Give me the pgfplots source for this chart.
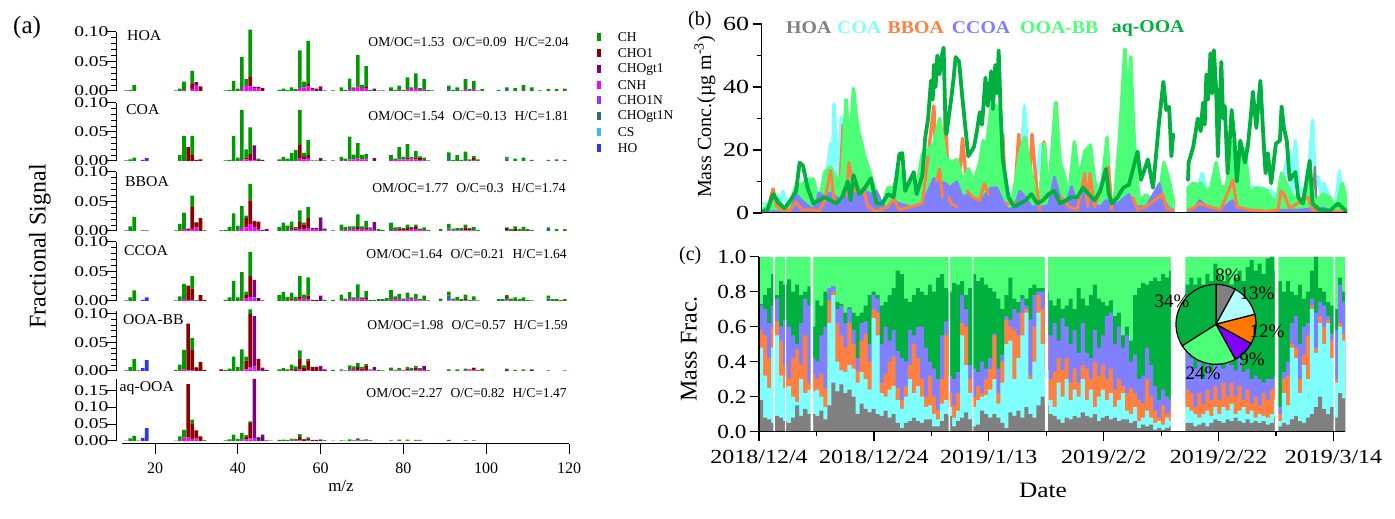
\documentclass[border=0pt]{standalone}
\usepackage{pgfplots}
\usepackage{pgfplotstable}
\usepackage{graphicx}
\usepackage{fontspec}
\setmainfont{Liberation Serif}
\pgfplotsset{compat=1.18}
\definecolor{cCH}{HTML}{009900}
\definecolor{cR}{HTML}{8B0000}
\definecolor{cU}{HTML}{800080}
\definecolor{cP}{HTML}{FF00FF}
\definecolor{cV}{HTML}{9933FF}
\definecolor{cT}{HTML}{336699}
\definecolor{cS}{HTML}{33BBFF}
\definecolor{cB}{HTML}{3333FF}
\definecolor{gHOA}{HTML}{808080}
\definecolor{gCOA}{HTML}{80FFFF}
\definecolor{gBB}{HTML}{FF8040}
\definecolor{gCC}{HTML}{8080FF}
\definecolor{gLG}{HTML}{4DFF77}
\definecolor{gDG}{HTML}{00B140}
\newcommand{\Tx}[3][1]{\scalebox{#1}[1]{\fontsize{#2}{#2}\selectfont #3}}
\newcommand{\yl}[1]{\Tx[1.3]{15}{#1}}
\newcommand{\lab}[4][west]{\node[inner sep=0pt,anchor=#1] at (#2pt,{519pt-#3pt}) {#4};}

% m  CNH CHO1N CHOgt1N CHO1 CHOgt1 CH HO  (thousandths of the signal)
\pgfplotstableread{
m P V T R U G B
13 0 0 0 0 0 1 0
14 0 0 0 0 0 2 0
15 0 0 0 0 0 10 0
25 0 0 0 0 0 1 0
26 0 0 0 0 0 4 0
27 2 0 0 0 0 14 0
29 3 0 0 10 0 21 0
30 10 0 0 5 0 0 0
31 0 0 0 8 0 0 0
37 0 0 0 0 0 1 0
38 0 0 0 0 0 2 0
39 0 0 0 0 0 17 0
40 0 0 0 0 0 4 0
41 3 0 0 0 0 55 0
42 10 0 0 0 0 10 0
43 8 0 0 16 0 80 0
44 5 0 0 2 0 0 0
45 4 0 0 3 0 0 0
46 0 0 0 5 0 0 0
50 0 0 0 0 0 2 0
51 0 0 0 0 0 4 0
52 0 0 0 0 0 2 0
53 0 0 0 0 0 6 0
54 0 0 0 0 0 3 0
55 5 0 0 0 0 64 0
56 6 0 0 0 0 10 0
57 8 0 0 4 0 73 0
58 3 0 0 2 0 0 0
59 0 0 0 4 0 0 0
60 0 0 0 0 8 0 0
61 0 0 0 0 0 1 0
63 0 0 0 0 0 1 0
65 0 0 0 0 0 6 0
66 0 0 0 0 0 2 0
67 3 0 0 0 0 18 0
68 3 0 0 0 0 3 0
69 6 0 0 2 0 53 0
70 5 0 0 0 0 5 0
71 5 0 0 2 0 35 0
72 0 0 0 0 0 2 0
73 0 0 0 0 4 0 0
74 0 0 0 0 0 1 0
75 0 0 0 0 0 1 0
77 0 0 0 0 0 6 0
78 0 0 0 0 0 2 0
79 2 0 0 0 0 7 0
80 0 0 0 0 0 2 0
81 3 0 0 0 0 20 0
82 3 0 0 0 0 3 0
83 5 0 0 0 0 25 0
84 2 0 0 0 0 3 0
85 3 0 0 0 0 17 0
86 0 0 0 0 0 2 0
87 0 0 0 0 0 1 0
91 0 0 3 0 0 6 0
92 0 0 0 0 0 2 0
93 0 0 0 0 0 6 0
94 0 0 0 0 0 1 0
95 3 0 0 0 0 17 0
96 0 0 0 0 0 3 0
97 3 0 0 0 0 14 0
98 0 0 0 0 0 1 0
99 0 0 0 0 0 3 0
103 0 0 0 0 0 2 0
105 0 0 3 0 0 3 0
107 0 0 0 0 0 5 0
109 2 0 0 0 0 8 0
111 0 0 0 0 0 6 0
113 0 0 0 0 0 1 0
115 0 0 0 0 0 3 0
117 0 0 0 0 0 3 0
119 0 0 0 0 0 4 0
}\tHOA
\pgfplotstableread{
m P V T R U G B
13 0 0 0 0 0 1 0
14 0 0 0 0 0 3 0
15 0 0 0 0 0 6 0
17 0 0 0 0 0 0 2
18 0 0 0 0 0 0 5
26 0 0 0 0 0 10 0
27 0 0 0 0 0 43 0
28 0 0 0 24 0 0 0
29 0 0 0 10 0 33 0
30 0 0 0 2 0 0 0
31 0 0 0 3 0 0 0
37 0 0 0 0 0 1 0
38 0 0 0 0 0 2 0
39 0 0 0 0 0 43 0
40 0 0 0 0 0 6 0
41 2 0 0 0 0 86 0
42 3 0 0 3 0 14 0
43 2 0 0 10 0 46 0
44 1 0 0 0 26 0 0
45 0 0 0 0 2 2 0
46 0 0 0 0 2 0 0
50 0 0 0 0 0 3 0
51 0 0 0 0 0 7 0
52 0 0 0 0 0 4 0
53 0 0 0 0 0 14 0
54 0 0 0 0 0 19 0
55 5 0 0 23 0 60 0
56 3 0 0 4 0 7 0
57 5 0 0 5 0 26 0
58 0 0 0 0 0 1 0
59 0 0 0 0 0 1 0
60 0 0 0 0 5 0 0
61 0 0 0 0 0 1 0
63 0 0 0 0 0 1 0
65 2 0 0 0 0 5 0
66 0 0 0 0 0 4 0
67 3 0 0 0 0 39 0
68 3 0 0 0 0 8 0
69 4 0 0 0 0 27 0
70 3 0 0 0 0 7 0
71 3 0 0 1 0 8 0
73 0 0 0 0 5 0 0
77 2 0 0 0 0 8 0
78 2 0 0 0 0 2 0
79 3 0 0 0 0 21 0
80 3 0 0 0 0 4 0
81 3 0 0 3 0 23 0
82 3 0 0 1 0 3 0
83 3 0 0 3 0 11 0
84 2 0 0 3 0 3 0
85 2 0 0 0 0 4 0
86 0 0 0 0 0 1 0
91 0 0 5 0 0 10 0
92 0 0 0 0 0 2 0
93 0 0 0 0 0 10 0
94 0 0 0 0 0 2 0
95 2 0 0 0 0 14 0
96 0 0 0 0 0 3 0
97 2 0 0 3 0 4 0
98 0 0 0 0 0 3 0
105 0 0 4 0 0 3 0
107 0 0 0 0 0 4 0
109 0 0 0 0 0 6 0
111 0 0 0 0 0 2 0
115 0 0 2 0 0 0 0
117 0 0 0 0 0 3 0
119 0 0 0 0 0 2 0
}\tCOA
\pgfplotstableread{
m P V T R U G B
13 0 0 0 0 0 1 0
14 0 0 0 0 0 8 0
15 0 0 0 0 0 24 0
17 0 0 0 0 0 0 1
18 0 0 0 0 0 0 1
25 0 0 0 0 0 1 0
26 0 0 0 0 0 12 0
27 3 0 0 0 0 28 0
28 2 0 0 2 0 0 0
29 3 0 0 38 0 19 0
30 6 0 0 8 0 1 0
31 0 0 0 22 0 0 0
32 0 0 0 1 0 0 0
36 0 0 0 0 1 0 0
37 0 0 0 0 0 2 0
38 0 0 0 0 0 7 0
39 0 0 0 0 0 30 0
40 2 0 0 0 0 7 0
41 5 0 0 0 0 37 0
42 6 0 0 16 0 4 0
43 12 0 0 40 0 28 0
44 5 2 0 8 2 0 0
45 3 0 0 13 0 0 0
46 0 0 0 0 2 0 0
47 0 0 0 0 3 0 0
50 0 0 0 0 0 7 0
51 0 0 0 0 0 14 0
52 0 0 0 0 0 9 0
53 3 0 0 3 0 10 0
54 1 0 0 3 0 3 0
55 3 0 0 12 0 20 0
56 3 0 0 7 0 4 0
57 5 0 0 17 0 19 0
58 3 0 0 2 0 0 0
59 3 0 0 2 0 0 0
60 0 0 0 0 22 1 0
61 1 0 0 0 3 0 0
63 0 0 0 0 0 1 0
65 1 0 0 0 0 10 0
66 2 0 0 0 0 5 0
67 3 0 0 0 0 5 0
68 3 0 0 0 0 5 0
69 3 0 0 4 0 21 0
70 3 0 0 0 0 5 0
71 3 0 0 3 0 11 0
72 3 0 0 0 0 3 0
73 2 0 0 0 13 0 0
74 0 0 0 0 0 3 0
75 0 0 0 0 0 2 0
77 2 0 0 0 0 12 0
78 2 0 0 0 0 4 0
79 2 0 0 2 0 3 0
80 2 0 0 1 0 2 0
81 2 0 0 3 0 6 0
82 3 0 0 2 0 2 0
83 3 0 0 4 0 4 0
84 2 0 0 0 0 2 0
85 2 0 0 0 0 4 0
86 0 0 0 0 0 2 0
89 0 0 0 0 0 3 0
91 1 0 3 0 0 8 0
92 1 0 0 0 0 3 0
93 1 0 0 0 0 4 0
94 1 0 0 1 0 3 0
95 1 0 0 5 0 5 0
96 1 0 0 2 0 2 0
97 1 0 0 1 0 5 0
98 0 0 0 0 0 2 0
105 0 0 2 3 0 1 0
106 0 0 0 1 0 2 0
107 0 0 0 3 0 5 0
108 0 0 0 1 0 2 0
109 0 0 0 1 0 6 0
110 0 0 0 1 0 2 0
111 0 0 0 1 0 1 0
115 0 0 3 0 0 3 0
117 0 0 0 0 0 3 0
119 0 0 0 1 0 2 0
}\tBBOA
\pgfplotstableread{
m P V T R U G B
13 0 0 0 0 0 1 0
14 0 0 0 0 0 6 0
15 0 0 0 0 0 18 0
17 0 0 0 0 0 0 2
18 0 0 0 0 0 0 6
25 0 0 0 0 0 1 0
26 0 0 0 0 0 8 0
27 3 0 0 0 0 26 0
28 2 0 0 24 0 0 0
29 1 0 0 20 0 21 0
30 0 0 0 1 0 0 0
31 0 0 0 10 0 0 0
32 0 0 0 2 0 0 0
37 0 0 0 0 0 2 0
38 0 0 0 0 0 6 0
39 0 0 0 0 0 34 0
40 0 0 0 0 0 6 0
41 2 0 0 0 0 47 0
42 4 0 0 6 0 6 0
43 5 2 0 35 0 41 0
44 2 4 0 0 30 0 0
45 0 0 0 5 0 0 0
46 0 0 0 0 1 0 0
50 0 0 0 0 0 10 0
51 0 0 0 0 0 15 0
52 0 0 0 0 0 7 0
53 1 0 0 3 0 10 0
54 0 0 0 0 0 7 0
55 3 0 0 5 0 34 0
56 3 0 0 1 0 7 0
57 3 0 0 6 0 31 0
58 0 0 0 2 0 0 0
59 0 0 0 2 0 0 0
60 0 0 0 0 9 0 0
61 0 0 0 0 0 2 0
63 0 0 0 0 0 2 0
65 1 0 0 0 0 10 0
66 2 0 0 0 0 2 0
67 3 0 0 0 0 12 0
68 3 0 0 0 0 3 0
69 3 0 0 1 0 24 0
70 3 0 0 0 0 3 0
71 3 0 0 2 0 12 0
72 0 0 0 0 0 2 0
73 0 0 0 0 0 2 0
74 0 0 0 0 0 3 0
75 0 0 0 0 0 3 0
76 0 0 0 0 0 5 0
77 3 0 0 0 0 16 0
78 3 0 0 0 0 5 0
79 3 0 0 0 0 9 0
80 2 0 0 0 0 2 0
81 3 0 0 1 0 10 0
82 3 0 0 0 0 3 0
83 3 0 0 1 0 8 0
84 1 0 0 0 0 2 0
85 1 0 0 0 0 8 0
86 0 0 0 0 0 1 0
89 0 0 0 0 0 4 0
91 1 0 8 0 0 7 0
92 1 0 0 0 0 3 0
93 1 0 0 0 0 6 0
94 0 0 0 0 0 3 0
95 1 0 0 2 0 8 0
96 0 0 0 0 0 2 0
97 1 0 0 0 0 7 0
98 0 0 0 0 0 1 0
103 0 0 0 0 0 3 0
104 0 0 0 0 0 3 0
105 1 0 3 3 0 3 0
106 0 0 0 1 0 3 0
107 0 0 0 0 0 6 0
108 0 0 0 0 0 3 0
109 0 0 0 0 0 6 0
110 0 0 0 0 0 2 0
111 0 0 0 0 0 1 0
115 0 0 4 0 0 5 0
116 0 0 0 0 0 3 0
117 0 0 0 0 0 3 0
118 0 0 0 0 0 2 0
119 0 0 0 1 0 2 0
}\tCCOA
\pgfplotstableread{
m P V T R U G B
13 0 0 0 0 0 1 0
14 0 0 0 0 0 7 0
15 0 0 0 0 0 21 0
16 0 0 0 1 0 0 0
17 0 0 0 0 0 0 5
18 0 0 0 0 0 0 19
25 0 0 0 0 0 2 0
26 0 0 0 1 0 10 0
27 3 0 0 0 0 34 0
28 1 0 0 82 0 0 0
29 2 0 0 35 0 21 0
30 0 0 0 5 0 2 0
31 0 0 0 16 0 0 0
32 0 0 0 2 0 0 0
36 0 0 0 3 0 0 0
37 0 0 0 0 0 2 0
38 0 0 0 0 0 4 0
39 0 0 0 0 0 25 0
40 0 0 0 0 0 7 0
41 2 0 0 0 0 36 0
42 3 0 0 15 0 7 0
43 4 3 0 93 0 8 0
44 3 5 0 0 88 0 0
45 2 0 0 19 0 0 0
46 0 0 0 0 6 0 0
47 0 0 0 0 2 0 0
50 0 0 0 0 0 3 0
51 0 0 0 0 0 5 0
52 0 0 0 0 0 3 0
53 1 0 0 3 0 7 0
54 0 0 0 2 0 6 0
55 3 0 0 19 0 14 0
56 0 0 0 5 0 5 0
57 1 0 0 17 0 3 0
58 0 0 0 7 0 0 0
59 0 0 0 7 0 0 0
60 0 0 0 0 9 0 0
61 0 0 0 0 3 0 0
63 0 0 0 0 0 2 0
65 1 0 0 0 0 2 0
66 0 0 0 0 0 1 0
67 2 0 0 1 0 7 0
68 2 0 0 1 0 5 0
69 2 0 0 5 0 7 0
70 2 0 0 2 0 3 0
71 2 0 0 7 0 3 0
72 1 0 0 0 0 2 0
73 1 0 0 0 6 0 0
74 0 0 0 0 0 2 0
75 0 0 0 0 0 1 0
77 1 0 0 0 0 5 0
78 1 0 0 0 0 1 0
79 1 0 0 0 0 4 0
80 1 0 0 0 0 1 0
81 1 0 0 3 0 3 0
82 1 0 0 1 0 3 0
83 1 0 0 5 0 3 0
84 2 0 0 1 0 2 0
85 2 0 0 0 7 0 0
86 0 0 0 0 1 0 0
91 0 0 0 0 0 3 0
93 0 0 0 0 0 3 0
95 1 0 0 1 0 2 0
96 1 0 0 1 0 1 0
97 1 0 0 4 0 1 0
98 0 0 0 1 0 1 0
99 0 0 0 1 0 3 0
105 0 0 0 3 0 1 0
107 0 0 0 0 0 2 0
109 0 0 0 1 0 2 0
111 0 0 0 2 0 1 0
115 0 0 0 0 0 1 0
119 0 0 0 0 0 1 0
}\tOOBB
\pgfplotstableread{
m P V T R U G B
13 0 0 0 0 0 1 0
14 0 0 0 0 0 8 0
15 0 0 0 0 0 15 0
16 0 0 0 1 0 0 0
17 0 0 0 0 0 0 9
18 0 0 0 0 0 0 38
25 0 0 0 0 0 1 0
26 0 0 0 0 0 14 0
27 10 0 0 0 0 23 0
28 10 0 0 158 0 0 0
29 4 0 0 48 0 11 0
30 8 0 0 23 0 0 0
31 0 0 0 14 0 0 0
32 0 0 0 2 0 0 0
37 0 0 0 0 0 2 0
38 0 0 0 0 0 5 0
39 0 0 0 0 0 19 0
40 0 0 0 0 0 6 0
41 1 0 0 3 0 20 0
42 4 0 0 10 0 3 0
43 5 2 0 46 0 5 0
44 3 4 0 0 176 0 0
45 0 0 0 0 9 3 0
46 0 0 0 0 18 1 0
47 0 0 0 0 2 0 0
48 0 0 0 1 0 0 0
50 0 0 0 0 0 3 0
51 0 0 0 0 0 4 0
52 0 0 0 0 0 3 0
53 1 0 0 3 0 3 0
54 0 0 0 2 0 4 0
55 2 0 0 10 0 8 0
56 0 0 0 3 0 3 0
57 1 0 0 7 0 3 0
58 0 0 0 3 0 0 0
59 0 0 0 3 0 0 0
60 0 0 0 0 4 1 0
61 0 0 0 0 2 0 0
63 0 0 0 0 0 1 0
65 0 0 0 0 0 2 0
66 0 0 0 0 0 1 0
67 0 0 0 0 0 5 0
68 1 0 0 0 0 2 0
69 2 0 0 1 0 5 0
70 1 0 0 1 0 1 0
71 1 0 0 1 0 3 0
72 0 0 0 0 2 0 0
77 0 0 0 0 0 2 0
79 0 0 0 1 0 3 0
81 0 0 0 1 0 3 0
83 0 0 0 1 0 2 0
84 1 0 0 1 0 1 0
91 0 0 0 0 0 3 0
95 0 0 0 1 0 1 0
97 0 0 0 1 0 1 0
}\tAQ

% panel (c): step index (0.7 d), then the top of each stacked layer
\pgfplotstableread{
i g c o p d
0 .18 .48 .58 .72 .73
1 .08 .32 .55 .70 .78
2 .07 .25 .42 .62 .82
3 .05 .48 .60 .72 .90
4 .09 .55 .63 .76 .78
5 .08 .32 .52 .60 .86
6 .06 .25 .38 .64 .84
7 .05 .26 .30 .60 .87
8 .08 .20 .42 .55 .80
9 .15 .17 .47 .50 .84
10 .09 .30 .38 .62 .78
11 .13 .22 .55 .76 .80
12 .10 .24 .28 .72 .83
13 .10 .23 .33 .42 .60
14 .09 .24 .30 .40 .75
15 .12 .20 .33 .55 .72
16 .07 .14 .25 .60 .80
17 .15 .62 .75 .82 .78
18 .28 .78 .80 .83 .83
19 .23 .40 .62 .70 .74
20 .27 .35 .55 .72 .73
21 .22 .34 .48 .62 .68
22 .24 .38 .62 .70 .71
23 .20 .36 .50 .58 .68
24 .10 .28 .35 .42 .66
25 .16 .34 .52 .62 .68
26 .13 .30 .56 .63 .72
27 .11 .24 .40 .50 .78
28 .13 .65 .70 .78 .80
29 .10 .55 .68 .76 .78
30 .09 .22 .28 .50 .72
31 .12 .20 .33 .60 .74
32 .08 .24 .40 .52 .78
33 .10 .26 .43 .58 .82
34 .05 .18 .25 .46 .92
35 .02 .13 .18 .42 .90
36 .05 .20 .26 .40 .76
37 .06 .30 .38 .58 .74
38 .08 .22 .50 .55 .78
39 .06 .26 .42 .60 .82
40 .05 .20 .30 .60 .80
41 .07 .14 .20 .48 .78
42 .07 .15 .32 .40 .84
43 .03 .10 .20 .36 .80
44 .03 .07 .12 .30 .88
45 .06 .16 .30 .55 .90
46 .10 .18 .55 .63 .82
47 .09 .14 .22 .32 .80
48 .03 .08 .15 .30 .85
49 .06 .12 .22 .34 .84
50 .08 .55 .62 .78 .86
51 .11 .38 .60 .70 .78
52 .07 .22 .30 .38 .82
53 .03 .14 .20 .36 .90
54 .04 .18 .26 .34 .86
55 .12 .20 .22 .40 .88
56 .10 .21 .30 .36 .84
57 .08 .24 .36 .42 .82
58 .10 .30 .55 .56 .80
59 .08 .16 .22 .36 .76
60 .05 .28 .40 .44 .70
61 .02 .50 .64 .66 .78
62 .11 .52 .60 .64 .88
63 .09 .30 .58 .70 .76
64 .12 .42 .55 .68 .74
65 .08 .55 .68 .76 .78
66 .14 .68 .70 .72 .76
67 .10 .30 .32 .64 .82
68 .08 .40 .60 .78 .84
69 .15 .68 .78 .80 .82
70 .20 .50 .70 .80 .82
71 .15 .35 .55 .75 .80
72 .10 .18 .30 .55 .75
73 .09 .14 .34 .62 .72
74 .07 .28 .42 .52 .76
75 .05 .20 .35 .65 .70
76 .08 .30 .42 .60 .72
77 .07 .18 .28 .50 .76
78 .09 .24 .36 .58 .70
79 .08 .20 .28 .45 .82
80 .11 .30 .38 .62 .76
81 .09 .18 .36 .45 .72
82 .08 .24 .30 .42 .78
83 .10 .14 .40 .58 .84
84 .06 .20 .32 .48 .76
85 .08 .24 .38 .55 .74
86 .09 .18 .30 .66 .72
87 .07 .22 .36 .68 .75
88 .08 .14 .24 .50 .66
89 .06 .18 .30 .60 .68
90 .07 .22 .26 .48 .55
91 .07 .12 .22 .55 .60
92 .05 .10 .25 .40 .52
93 .06 .14 .22 .44 .78
94 .02 .06 .18 .30 .82
95 .04 .08 .16 .32 .85
96 .03 .12 .30 .48 .84
97 .04 .08 .20 .38 .86
98 .01 .05 .12 .26 .88
99 .02 .06 .08 .18 .86
100 .01 .04 .15 .24 .90
101 .02 .08 .10 .20 .88
102 .03 .06 .12 .18 .92
103 .03 .06 .12 .18 .90
104 .03 .06 .12 .20 .88
105 .04 .10 .18 .30 .86
106 .05 .14 .24 .48 .84
107 .05 .12 .22 .42 .88
108 .03 .10 .14 .36 .84
109 .04 .08 .22 .40 .88
110 .05 .10 .16 .30 .84
111 .03 .12 .24 .40 .90
112 .05 .09 .18 .34 .86
113 .07 .14 .26 .38 .96
114 .06 .10 .18 .45 .90
115 .05 .14 .28 .36 .86
116 .07 .12 .20 .42 .90
117 .06 .16 .28 .38 .84
118 .08 .10 .20 .35 .88
119 .06 .12 .26 .42 .92
120 .05 .14 .18 .34 .86
121 .07 .10 .24 .36 .94
122 .05 .12 .16 .30 .98
123 .06 .08 .20 .32 .92
124 .05 .10 .15 .30 .96
125 .06 .09 .22 .28 .90
126 .04 .08 .18 .30 .99
127 .05 .10 .24 .30 1.0
128 .08 .18 .28 .32 .92
129 .03 .06 .10 .14 .86
130 .05 .22 .30 .34 .80
131 .04 .15 .32 .40 .86
132 .07 .48 .50 .62 .80
133 .09 .42 .48 .66 .78
134 .06 .22 .30 .50 .84
135 .05 .38 .44 .60 .76
136 .08 .30 .55 .62 .80
137 .10 .70 .72 .76 .92
138 .14 .45 .48 .68 1.0
139 .20 .62 .66 .74 .82
140 .13 .50 .60 .72 .80
141 .10 .62 .64 .66 .74
142 .14 .42 .52 .56 .72
143 .08 .28 .30 .58 .70
144 .22 .60 .62 .84 .88
145 .19 .52 .56 .74 .80
146 .12 .52 .54 .58 .60
}\tFrac

\newcommand{\stackbars}[1]{%
 \addplot[fill=cP,draw=none] table[x=m,y expr=\thisrow{P}/1000]{#1};
 \addplot[fill=cV,draw=none] table[x=m,y expr=\thisrow{V}/1000]{#1};
 \addplot[fill=cT,draw=none] table[x=m,y expr=\thisrow{T}/1000]{#1};
 \addplot[fill=cR,draw=none] table[x=m,y expr=\thisrow{R}/1000]{#1};
 \addplot[fill=cU,draw=none] table[x=m,y expr=\thisrow{U}/1000]{#1};
 \addplot[fill=cCH,draw=none] table[x=m,y expr=\thisrow{G}/1000]{#1};
 \addplot[fill=cB,draw=none] table[x=m,y expr=\thisrow{B}/1000]{#1};
}
\newcommand{\orangedata}{(0,.3)(1,1)(2,7.6)(2.6,2)(4,.5)(5,1)(6,3.5)(7,1)(9,1)(10,.5)(11,4)(12,13.4)(12.7,3)(13.5,4)(14.2,28)(14.8,6)(15.2,16)(16,8)(17,6)(17.7,8)(18.5,2)(20,.5)(22,2)(23,4.5)(24,1)(26,2)(28,3)(29,18)(30,34)(30.5,10)(31,14)(31.5,5)(32,32)(32.6,5)(33,3)(34,2)(35,23.7)(35.8,7)(36.8,5)(38,4)(38.8,9.4)(39.5,6)(40.3,30)(41,10)(42,25)(42.6,3)(44,3)(44.8,25)(45.4,5)(46,23.7)(46.5,5)(47.1,25)(47.9,8)(48.5,1)(49.2,22.6)(49.8,2)(51.3,35)(52.2,5)(53.5,2)(55,1)(56.3,12.6)(56.8,2)(57.2,12.6)(58,2)(60.4,14.7)(61,1)(63.3,20)(63.8,5)(64.3,22.6)(64.7,5)(65.5,1)(67,2)(69.9,6)(70.5,1.5)(71.7,1)(71.8,nan)(74.3,1)(75.2,1.5)(76.3,3)(78,2)(80,1)(82.1,10.5)(82.8,2)(85,1)(88,.5)(90,1)(90.5,7)(91,6)(92,1.5)(95.2,5)(96,1)(100,.5)(102,.3)}
\pgfplotsset{
 panA/.style={scale only axis,width=454pt,xmin=10.58,xmax=120.24,ymin=0,
  axis y line*=left,axis x line=none,clip=false,ybar stacked,bar width=3.6pt,
  axis line style={line width=1pt,-},tick style={line width=1pt,black},
  tick align=outside,major tick length=10pt,minor tick length=5pt,
  xtick=\empty,scaled y ticks=false,
  yticklabel style={xshift=6pt},
  ytick={0,0.05,0.1},yticklabels={\yl{0.00},\yl{0.05},\yl{0.10}},minor y tick num=4},
 ser/.style={line width=3.6pt,line join=round,line cap=round,no marks,forget plot}
}
\begin{document}
\begin{tikzpicture}
\useasboundingbox (0pt,0pt) rectangle (1395pt,519pt);
% ---------- panel (a)
\begin{axis}[panA,at={(116pt,428pt)},anchor=south west,height=59pt,ymax=0.1]\stackbars{\tHOA}\end{axis}
\begin{axis}[panA,at={(116pt,358pt)},anchor=south west,height=58pt,ymax=0.1]\stackbars{\tCOA}\end{axis}
\begin{axis}[panA,at={(116pt,288pt)},anchor=south west,height=59pt,ymax=0.1]\stackbars{\tBBOA}\end{axis}
\begin{axis}[panA,at={(116pt,218pt)},anchor=south west,height=59pt,ymax=0.1]\stackbars{\tCCOA}\end{axis}
\begin{axis}[panA,at={(116pt,148pt)},anchor=south west,height=60pt,ymax=0.105]\stackbars{\tOOBB}\end{axis}
\begin{axis}[panA,at={(116pt,78pt)},anchor=south west,height=62pt,ymax=0.183,
  ytick={0,0.05,0.1,0.15},yticklabels={\yl{0.00},\yl{0.05},\yl{0.10},\yl{0.15}},minor y tick num=0]\stackbars{\tAQ}\end{axis}
\begin{axis}[scale only axis,width=447pt,height=1pt,at={(122pt,75pt)},anchor=south west,
  xmin=12,xmax=120,ymin=0,ymax=1,axis x line=bottom,axis y line=none,
  axis line style={line width=1pt,-},tick style={line width=1pt,black},tick align=outside,
  major tick length=10pt,xtick={20,40,...,120},
  xticklabel style={font=\fontsize{16}{16}\selectfont,yshift=-5pt},
  /pgf/number format/assume math mode=true]
\end{axis}
% ---------- panel (b)
\begin{axis}[scale only axis,width=585.3pt,height=189pt,at={(761.7pt,306pt)},anchor=south west,
  xmin=0,xmax=102,ymin=0,ymax=60,axis y line*=left,axis x line=none,axis on top,
  axis line style={line width=1.2pt,-},tick style={line width=1.2pt,black},tick align=outside,
  major tick length=9pt,minor tick length=5pt,xtick=\empty,
  ytick={0,20,40,60},yticklabels={\Tx[1.3]{20}{0},\Tx[1.3]{20}{20},\Tx[1.3]{20}{40},\Tx[1.3]{20}{60}},
  minor y tick num=1,unbounded coords=jump]
\addplot[ser,color=gCOA] coordinates {(0,3)(1,3)(2,4)(2.8,5.8)(3.2,2)(3.7,6.8)(4.4,3)(5,3)(6,3)(7,4)(7.7,11)(8,6)(8.4,10.8)(9,3)(10,5)(11,7)(12,22)(12.3,10)(12.6,34.6)(13.2,12)(13.9,30.4)(14.5,14)(16,10)(18,5)(19,4)(19.7,8)(20.5,3)(22,3)(24,4)(26,2)(28,5)(30,4)(32,5)(33,8)(34,6)(36,4)(38,3)(40,4)(41,5)(42,3)(42.6,8)(43.2,4)(45,12)(45.8,34)(46.5,14)(47.5,6)(48.7,22)(49.5,5)(51,8)(52.8,12)(53.5,4)(55,6)(57,5)(59,9.4)(60,4)(62,5)(64,3)(66,2)(68,3)(70,4)(71.7,3)(71.8,nan)(74.3,4)(76,8)(76.8,12.6)(77.6,6)(79.8,9.4)(80.5,5)(81.3,9)(83,6)(85.6,8.4)(86.2,5)(87,8)(88.8,7)(90,5)(92,20)(92.5,6)(93,23)(93.6,8)(95,5)(96,29.5)(96.5,8)(97,11.5)(97.6,5)(98,9.4)(99,4)(100,2)(100.7,13.3)(101.2,4)(101.6,7)(102,2)};
\addplot[ser,color=gHOA,line width=2pt] coordinates {(96,3)(96.4,14.7)(96.7,3)};
% BBOA: tips stand out above OOA-BB
\addplot[ser,color=gBB,line width=3.4pt] coordinates {\orangedata};
% OOA-BB: the line, with the mass under it filled
\addplot[ser,color=gLG,fill=gLG] coordinates {(0,1)(1,2)(2,5)(3,4)(4,1)(5,3)(6,8.7)(7,9)(8,10.5)(9,10.8)(10,3)(11,13)(12,14.5)(13,11)(14,11.5)(14.7,36)(15.3,20)(16,39.5)(16.5,30)(17,25)(18,17.5)(19,12)(20,5)(21,2)(22,8)(23,8)(24,14)(25,8)(26,11)(27,8)(28,18.7)(29,20)(30,22)(31,30)(32,18)(33,16)(34,17)(35,10)(36,14)(37,10)(38,16)(38.6,23)(39,18)(40,34)(41,34)(42,16)(43,3)(43.8,5)(45,19)(45.8,24)(46.7,15)(47.9,5)(48.4,4)(49.3,22)(50,4)(51.2,35)(52,16)(52.8,11.5)(53.4,3)(54.5,22.6)(55.3,10.5)(56.3,19.5)(57.3,21.6)(58,10.5)(59,4)(59.5,12.6)(60.2,24)(60.7,5)(61.5,4)(62.3,22)(63.3,52)(63.7,30)(64.3,49.6)(64.8,27)(65.3,12.6)(65.8,4)(67,5.7)(68.2,4)(69.3,6)(70.1,16)(71,10.5)(71.7,4)} \closedcycle;
\addplot[ser,color=gLG,fill=gLG] coordinates {(74.3,8)(75.2,9.4)(76,9)(76.6,9.4)(77.4,7)(78.3,8)(79.2,16)(79.9,8.4)(81,8.4)(82.1,22.6)(83,17)(84.2,20.5)(85,6)(86.2,8)(88,7)(89.7,3)(90.6,12.6)(91.4,9.4)(92.6,5)(93.5,5)(94.6,4)(95.5,12.6)(96.4,3)(97.8,6)(99,5)(100.1,1)(101.2,9.4)(102,2)} \closedcycle;
% CCOA
\addplot[ser,color=gCC,fill=gCC,line width=2.4pt] coordinates {(0,.2)(2,.5)(4,.3)(5,1)(6,6)(7,4)(9,1)(10,6.5)(11,5)(12,6.5)(13,5)(14,4)(15,7)(16,6)(17,7)(18,7)(19,6)(20,7)(21,3)(22,1)(23,4)(24,3)(26,2)(28,3)(29,7)(30,11)(31,10)(32,9.4)(33,8)(33.3,9)(34,10)(35,5)(36,6)(37,4)(38,3)(39,6)(40,8)(41,8)(42,4)(43,1)(44,2)(45,7)(46,5)(47,2)(49,2)(50,2.5)(51,11.5)(52,5)(53,3)(54,8.4)(55,3)(56.5,9.4)(57.5,3)(59,2)(60,4)(62,3)(64,6)(65,2)(67,2)(69.3,9.4)(70,4)(71,1.5)(71.7,1)} \closedcycle;
\addplot[ser,color=gCC,fill=gCC,line width=2.4pt] coordinates {(74.3,1)(75.5,1.5)(76.3,4)(78,1.5)(80,1)(82,4)(83,1.5)(84,1)(88,.5)(92,1)(94,1)(96,1.5)(98,1.5)(100,.3)(102,.3)} \closedcycle;
% BBOA again: its lower stretches lie over the other layers
\addplot[ser,color=gBB,line width=3pt,restrict y to domain=0:19] coordinates {\orangedata};
% aq-OOA
\addplot[ser,color=gDG,line width=3.8pt] coordinates {(0,.5)(1,1)(2,6)(3,3)(4,1.5)(5,4)(6,7)(6.6,16)(7.2,15)(8,8)(9,3)(10,4)(11,5)(12,4)(13,3)(14,5)(15,10)(15.5,4)(16,12)(17,6)(18,8)(19,11)(20,3)(21,3)(22,6)(23,5)(24,18.7)(24.5,19)(25,7)(26,11)(26.5,13)(27,6)(28,12)(28.5,24)(29,30)(29.5,42)(29.8,36)(30,47)(30.3,40)(30.6,50)(31,44)(31.4,50)(31.7,52.5)(32,30)(32.2,25)(33,36)(33.4,42)(33.8,49.5)(34.4,48)(35,36)(36,18)(37,21)(37.5,26)(38,32)(38.4,28)(39,43)(39.4,34)(40,45)(40.3,33)(40.7,47)(41,38)(41.3,51.6)(41.6,34)(42,17)(43,5)(44,2)(45,3)(46,4)(47,6)(48,3)(49,4)(50,6)(51,7)(52,3)(53,4)(54,5)(55,5)(56,8)(57,6)(58,4)(59,7)(60,14)(60.5,6)(61,3)(62,5)(63,8)(64,9)(65.5,19.5)(66.1,10.5)(67.3,17)(68.2,8)(69.2,28)(70,41.7)(70.5,32.7)(71,33.7)(71.4,18)(71.7,25)(71.8,nan)(74.3,10.5)(74.4,16)(75.2,21)(76,30)(76.5,26)(76.9,35)(77.2,28)(77.5,44)(77.8,36)(78.2,50.7)(78.5,38)(78.8,51.7)(79.2,39)(79.5,18)(80.1,48)(80.4,30)(80.7,34)(81.2,12.6)(81.9,32.7)(82.4,23)(82.8,10)(83.4,23)(84.2,16)(84.7,21)(85.2,30)(85.6,38.5)(86.2,27)(86.9,42)(87.4,25)(87.8,12.6)(88.2,19)(88.8,9.4)(89.6,22)(90.3,23)(90.6,33.8)(91,27)(91.5,23)(92,10.5)(93,13)(93.5,5)(94.3,3)(95.5,16.6)(96,3)(97.2,1)(99,.7)(100.4,3)(101.3,1.5)(102,.4)};
\draw[line width=1.5pt] (axis cs:-1.5,0) -- (axis cs:102,0);
\end{axis}
% ---------- panel (c)
\begin{axis}[scale only axis,width=586pt,height=175pt,at={(759pt,87.3pt)},anchor=south west,
  xmin=0,xmax=102,ymin=0,ymax=1,axis y line*=left,axis x line*=bottom,axis on top,
  axis line style={line width=1.2pt,-},tick style={line width=1.2pt,black},tick align=outside,
  major tick length=9pt,minor tick length=4pt,
  xtick={0,20,40,60,80,100},minor xtick={10,30,50,70,90},
  xticklabel style={yshift=-6pt},
  xticklabels={\Tx[1.2]{20}{2018/12/4},\Tx[1.2]{20}{2018/12/24},\Tx[1.2]{20}{2019/1/13},\Tx[1.2]{20}{2019/2/2},\Tx[1.2]{20}{2019/2/22},\Tx[1.2]{20}{2019/3/14}},
  ytick={0,0.2,0.4,0.6,0.8,1},
  yticklabels={\Tx[1.16]{20}{0.0},\Tx[1.16]{20}{0.2},\Tx[1.16]{20}{0.4},\Tx[1.16]{20}{0.6},\Tx[1.16]{20}{0.8},\Tx[1.16]{20}{1.0}}]
\addplot[fill=gLG,draw=none] coordinates {(0,1)(102.2,1)} \closedcycle;
\addplot[const plot,fill=gDG,draw=none] table[x expr=\thisrow{i}*0.7,y=d]{\tFrac} \closedcycle;
\addplot[const plot,fill=gCC,draw=none] table[x expr=\thisrow{i}*0.7,y=p]{\tFrac} \closedcycle;
\addplot[const plot,fill=gBB,draw=none] table[x expr=\thisrow{i}*0.7,y=o]{\tFrac} \closedcycle;
\addplot[const plot,fill=gCOA,draw=none] table[x expr=\thisrow{i}*0.7,y=c]{\tFrac} \closedcycle;
\addplot[const plot,fill=gHOA,draw=none] table[x expr=\thisrow{i}*0.7,y=g]{\tFrac} \closedcycle;
% data gaps
\addplot[fill=white,draw=none] coordinates {(2.5,0)(2.5,1)(2.75,1)(2.75,0)} \closedcycle;
\addplot[fill=white,draw=none] coordinates {(4.55,0)(4.55,1)(4.7,1)(4.7,0)} \closedcycle;
\addplot[fill=white,draw=none] coordinates {(9,0)(9,1)(9.4,1)(9.4,0)} \closedcycle;
\addplot[fill=white,draw=none] coordinates {(33,0)(33,1)(33.25,1)(33.25,0)} \closedcycle;
\addplot[fill=white,draw=none] coordinates {(37.15,0)(37.15,1)(37.3,1)(37.3,0)} \closedcycle;
\addplot[fill=white,draw=none] coordinates {(49.8,0)(49.8,1)(50.3,1)(50.3,0)} \closedcycle;
\addplot[fill=white,draw=none] coordinates {(71.7,0)(71.7,1)(74.2,1)(74.2,0)} \closedcycle;
\addplot[fill=white,draw=none] coordinates {(89.8,0)(89.8,1)(90.4,1)(90.4,0)} \closedcycle;
\addplot[fill=white,draw=none] coordinates {(100,0)(100,1)(100.3,1)(100.3,0)} \closedcycle;
\end{axis}
% ---------- pie of the mean shares, clockwise from the top
\begin{scope}[shift={(1216pt,194.7pt)},line width=1.2pt]
\filldraw[fill=gHOA] (0,0) -- (90:40pt) arc[start angle=90,end angle=61.2,radius=40pt] -- cycle;
\filldraw[fill=gCOA!60] (0,0) -- (61.2:40pt) arc[start angle=61.2,end angle=14.4,radius=40pt] -- cycle;
\filldraw[fill=orange!95!red] (0,0) -- (14.4:40pt) arc[start angle=14.4,end angle=-28.8,radius=40pt] -- cycle;
\filldraw[fill={rgb,255:red,128;green,0;blue,255}] (0,0) -- (-28.8:40pt) arc[start angle=-28.8,end angle=-61.2,radius=40pt] -- cycle;
\filldraw[fill=gLG] (0,0) -- (-61.2:40pt) arc[start angle=-61.2,end angle=-147.6,radius=40pt] -- cycle;
\filldraw[fill=gDG] (0,0) -- (-147.6:40pt) arc[start angle=-147.6,end angle=-270,radius=40pt] -- cycle;
\end{scope}
\lab[center]{1228}{275}{\Tx{19}{8\%}}
\lab[center]{1257}{293}{\Tx{19}{13\%}}
\lab[center]{1267}{331}{\Tx{19}{12\%}}
\lab[center]{1252}{359}{\Tx{19}{9\%}}
\lab[center]{1203}{373}{\Tx{19}{24\%}}
\lab[center]{1172}{301}{\Tx{19}{34\%}}
% ---------- texts of panel (a)
\lab{13}{27}{\Tx{25}{(a)}}
\lab{127}{36}{\Tx[1.05]{15}{HOA}}
\lab{126}{110}{\Tx[1.05]{15}{COA}}
\lab{125}{182}{\Tx[1.05]{15}{BBOA}}
\lab{124}{251}{\Tx[1.05]{15}{CCOA}}
\lab{123}{320}{\Tx[1.05]{15}{OOA-BB}}
\lab{119.5}{388}{\Tx[1.05]{15}{aq-OOA}}
\newcommand{\ratio}[3]{\Tx{13.6}{OM/OC=#1\hspace{8pt}O/C=#2\hspace{8pt}H/C=#3}}
\lab[east]{569}{42}{\ratio{1.53}{0.09}{2.04}}
\lab[east]{569}{116}{\ratio{1.54}{0.13}{1.81}}
\lab[east]{566}{188}{\ratio{1.77}{0.3}{1.74}}
\lab[east]{567}{254}{\ratio{1.64}{0.21}{1.64}}
\lab[east]{568}{325}{\ratio{1.98}{0.57}{1.59}}
\lab[east]{567}{393}{\ratio{2.27}{0.82}{1.47}}
\node[rotate=90,inner sep=0pt] at (40pt,{519pt-246.5pt}) {\Tx{24}{Fractional Signal}};
\lab[center]{341}{486}{\Tx{17}{m/z}}
% legend of panel (a)
\foreach \c/\n/\y in {cCH/CH/37,cR/CHO1/53,cU/CHOgt1/69,cP/CNH/85,cV/CHO1N/100,cT/CHOgt1N/116,cS/CS/132,cB/HO/148}{
 \fill[\c] (597.3pt,{519pt-\y pt-4pt}) rectangle (600.8pt,{519pt-\y pt+4pt});
 \lab{617.7}{\y}{\Tx{13.5}{\n}}
}
% ---------- texts of panel (b)
\lab{688}{21}{\Tx{20}{(b)}}
\node[rotate=90,inner sep=0pt] at (705pt,{519pt-117pt}) {\Tx{20}{Mass Conc.(µg m\textsuperscript{-3})}};
\lab{786}{28}{\textcolor{gHOA}{\Tx[1.1]{18}{\bfseries HOA}}}
\lab{837}{28}{\textcolor{gCOA}{\Tx[1.1]{18}{\bfseries COA}}}
\lab{887.5}{28}{\textcolor{gBB}{\Tx[1.1]{18}{\bfseries BBOA}}}
\lab{951.7}{28}{\textcolor{gCC}{\Tx[1.1]{18}{\bfseries CCOA}}}
\lab{1020}{28}{\textcolor{gLG}{\Tx[1.1]{18}{\bfseries OOA-BB}}}
\lab{1111.7}{28}{\textcolor{gDG}{\Tx[1.1]{18}{\bfseries aq-OOA}}}
% ---------- texts of panel (c)
\lab{679}{256}{\Tx{20}{(c)}}
\node[rotate=90,inner sep=0pt] at (689pt,{519pt-349pt}) {\Tx{24}{Mass Frac.}};
\lab[center]{1043}{490}{\Tx[1.15]{22}{Date}}
\end{tikzpicture}
\end{document}
